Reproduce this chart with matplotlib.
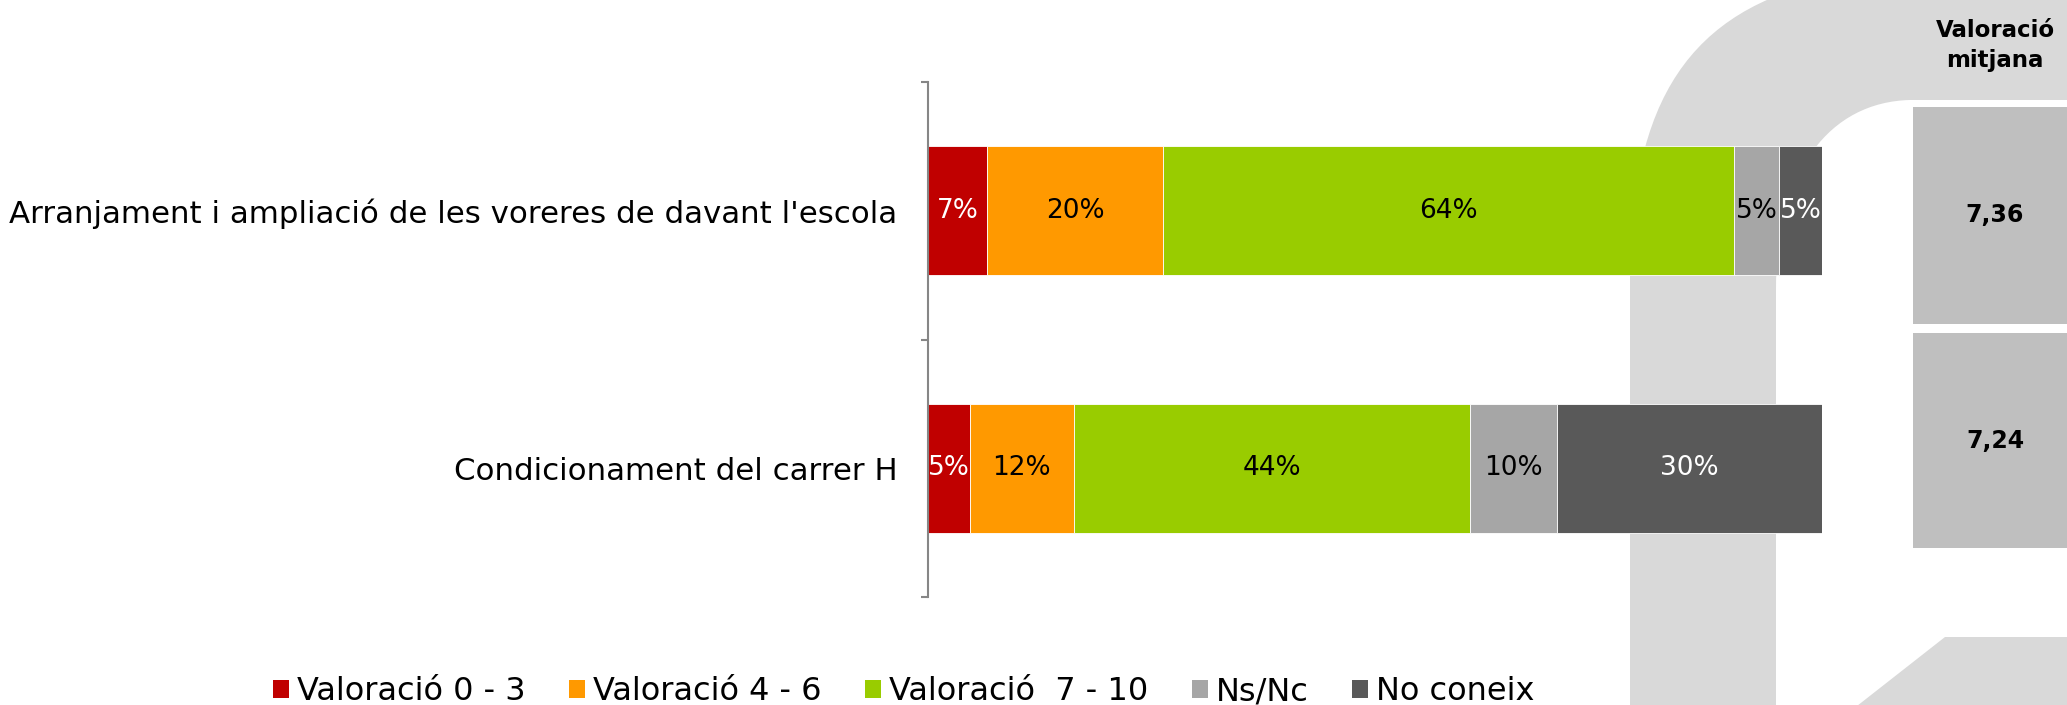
import matplotlib
matplotlib.use('Agg')
import matplotlib.pyplot as plt
from matplotlib.patches import Rectangle, Patch, PathPatch
from matplotlib.path import Path
import numpy as np

# ---------------- data ----------------
categories = ["Arranjament i ampliació de les voreres de davant l'escola",
              "Condicionament del carrer H"]
series_names = ["Valoració 0 - 3", "Valoració 4 - 6", "Valoració  7 - 10", "Ns/Nc", "No coneix"]
val_0_3 = [6.6, 4.7]
val_4_6 = [19.7, 11.6]
val_7_10 = [63.9, 44.3]
ns_nc = [5.0, 9.8]
no_coneix = [4.8, 29.6]
mean_values = [7.36, 7.24]
mean_title = ["Valoració", "mitjana"]

colors = ['#C00000', '#FF9900', '#99CC00', '#A6A6A6', '#595959']
label_colors = ['white', 'black', 'black', 'black', 'white']

W, H = 2067, 705
fig = plt.figure(figsize=(W / 100, H / 100), dpi=100)
fig.patch.set_facecolor('white')

# background decoration axes in pixel coordinates
bg = fig.add_axes([0, 0, 1, 1], zorder=0)
bg.set_xlim(0, W)
bg.set_ylim(H, 0)
bg.axis('off')

deco = '#D9D9D9'
verts = [(1630, 720), (1630, 280),
         (1630, 100), (1690, 10), (1830, -20),
         (2090, -20), (2090, 100), (1910, 100),
         (1830, 102), (1776, 170), (1776, 290),
         (1776, 720), (1630, 720)]
codes = [Path.MOVETO, Path.LINETO,
         Path.CURVE4, Path.CURVE4, Path.CURVE4,
         Path.LINETO, Path.LINETO, Path.LINETO,
         Path.CURVE4, Path.CURVE4, Path.CURVE4,
         Path.LINETO, Path.CLOSEPOLY]
bg.add_patch(PathPatch(Path(verts, codes), facecolor=deco, edgecolor='none'))
bg.add_patch(PathPatch(Path([(1857, 706), (1945, 637), (2090, 637), (2090, 720), (1840, 720)],
                            [Path.MOVETO, Path.LINETO, Path.LINETO, Path.LINETO, Path.CLOSEPOLY]),
                       facecolor=deco, edgecolor='none'))

# mean value boxes
box_spans = [(107, 324), (333, 548)]
for (y0, y1), v in zip(box_spans, mean_values):
    bg.add_patch(Rectangle((1913, y0), 200, y1 - y0, facecolor='#BFBFBF',
                           edgecolor='none'))
    bg.text(1995, (y0 + y1) / 2, f"{v:.2f}".replace('.', ','), ha='center', va='center',
            fontsize=17, fontweight='bold', color='black')
bg.text(1995, 37, mean_title[0], ha='center', va='baseline', fontsize=16.5, fontweight='bold')
bg.text(1995, 67, mean_title[1], ha='center', va='baseline', fontsize=16.5, fontweight='bold')

# main chart
ax = fig.add_axes([928 / W, 1 - 597 / H, (1822 - 928) / W, (597 - 82) / H], zorder=1)
ax.patch.set_alpha(0)
y = np.arange(len(categories))
series = [val_0_3, val_4_6, val_7_10, ns_nc, no_coneix]
left = np.zeros(len(categories))
for vals, c, lc, name in zip(series, colors, label_colors, series_names):
    vals = np.array(vals)
    bars = ax.barh(y, vals, left=left, height=0.5, color=c, edgecolor='white',
                   linewidth=0.6, label=name)
    ax.bar_label(bars, labels=[f"{v:.0f}%" for v in vals], label_type='center',
                 color=lc, fontsize=19)
    left += vals

ax.set_xlim(0, 100)
ax.set_ylim(1.5, -0.5)
for s in ['top', 'right', 'bottom']:
    ax.spines[s].set_visible(False)
ax.spines['left'].set_color('#868686')
ax.spines['left'].set_linewidth(1.5)
ax.set_xticks([])
ax.set_yticks(y)
ax.set_yticklabels(categories, fontsize=22.2)
ax.tick_params(axis='y', which='major', length=0, pad=22)
ax.set_yticks([-0.5, 0.5, 1.5], minor=True)
ax.tick_params(axis='y', which='minor', length=5, width=1.5, color='#868686')

handles = [Patch(facecolor=c, edgecolor='none') for c in colors]
fig.legend(handles, series_names, loc='center', bbox_to_anchor=(904 / W, 1 - 692 / H),
           ncol=5, frameon=False, fontsize=23, handlelength=0.5, handleheight=0.5,
           handletextpad=0.25, columnspacing=1.36, borderaxespad=0, borderpad=0)

fig.savefig('out.png', dpi=100, facecolor='white')
